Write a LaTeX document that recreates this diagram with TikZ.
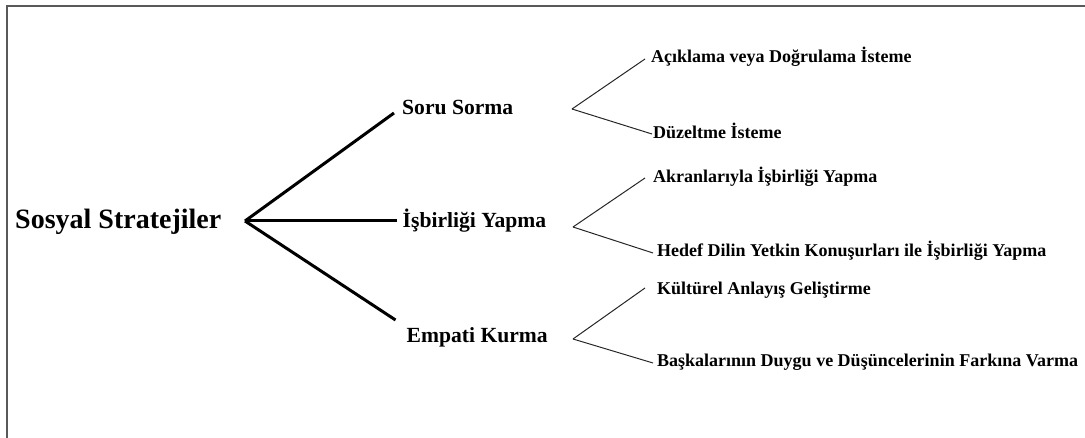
\documentclass[tikz,border=0pt]{standalone}
\usepackage{fontspec}
\setmainfont{Liberation Serif}

\begin{document}
\begin{tikzpicture}[x=1pt,y=-1pt]
      \useasboundingbox (0,0) rectangle (1085,438);
      \draw[line width=1.8pt,black!65] (1085,6) -- (7,6) -- (7,438);
      \begin{scope}[every node/.style={anchor=base west,inner sep=0pt,font=\bfseries\fontsize{18}{22}\selectfont}]
        \node[font=\bfseries\fontsize{28}{34}\selectfont] (0) at (15,229) {Sosyal Stratejiler};
        \node[font=\bfseries\fontsize{21.6}{26}\selectfont] (1) at (402,115) {Soru Sorma};
        \node[font=\bfseries\fontsize{21.6}{26}\selectfont] (2) at (402.5,228) {İşbirliği Yapma};
        \node[font=\bfseries\fontsize{21.6}{26}\selectfont] (3) at (406.5,343) {Empati Kurma};
        \node (11) at (651,63) {Açıklama veya Doğrulama İsteme};
        \node (12) at (653,139) {Düzeltme İsteme};
        \node (21) at (653,183) {Akranlarıyla İşbirliği Yapma};
        \node (22) at (657,257) {Hedef Dilin Yetkin Konuşurları ile İşbirliği Yapma};
        \node (31) at (657,295) {Kültürel Anlayış Geliştirme};
        \node (32) at (657,367) {Başkalarının Duygu ve Düşüncelerinin Farkına Varma};
      \end{scope}
      \coordinate (r) at (245,221);
      \coordinate (a) at (572,109);
      \coordinate (b) at (573,227);
      \coordinate (c) at (573,339);
      \begin{scope}[every edge/.style={draw,line width=3pt}]
        \path (r) edge ([shift={(-8,-2)}]1.base west);
        \path (r) edge ([shift={(-6,-7)}]2.base west);
        \path (r) edge ([shift={(-11,-23)}]3.base west);
      \end{scope}
      \begin{scope}[every edge/.style={draw,line width=1pt,black!85}]
        \path (a) edge ([shift={(-6,-4)}]11.base west);
        \path (a) edge ([shift={(-1,-5)}]12.base west);
        \path (b) edge ([shift={(-8,-5)}]21.base west);
        \path (b) edge ([shift={(-4,-4)}]22.base west);
        \path (c) edge ([shift={(-12,-7)}]31.base west);
        \path (c) edge ([shift={(-4,-4)}]32.base west);
      \end{scope}
    \end{tikzpicture}
\end{document}
